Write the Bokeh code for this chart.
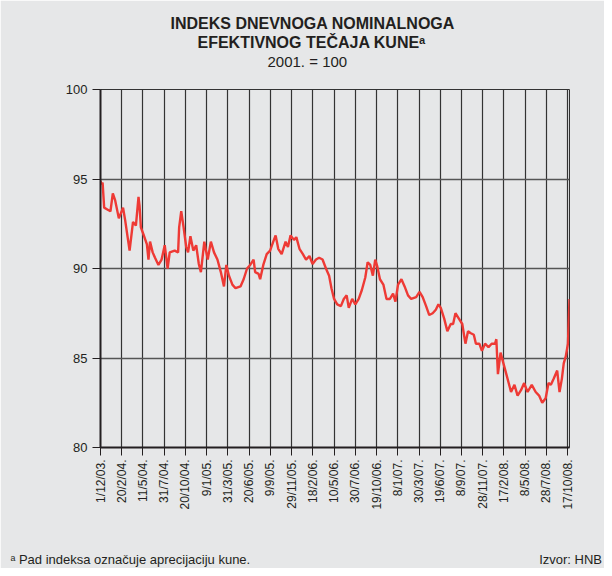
import datetime as dt
from math import pi
from bokeh.plotting import figure
from bokeh.models import FixedTicker, Range1d, ColumnDataSource, Title
from bokeh.embed import file_html
from bokeh.resources import INLINE

# ---- data -------------------------------------------------------------
tick_labels = ["1/12/03.", "20/2/04.", "11/5/04.", "31/7/04.", "20/10/04.", "9/1/05.",
               "31/3/05.", "20/6/05.", "9/9/05.", "29/11/05.", "18/2/06.", "10/5/06.",
               "30/7/06.", "19/10/06.", "8/1/07.", "30/3/07.", "19/6/07.", "8/9/07.",
               "28/11/07.", "17/2/08.", "8/5/08.", "28/7/08.", "17/10/08."]

# days since 1 Dec 2003
days = [0, 4, 8, 14, 26, 38, 47, 56, 70, 86, 94, 111, 124, 135, 145, 149, 154, 164,
        177, 183, 189, 199, 208, 221, 233, 245, 256, 264, 283, 296, 300, 308, 317, 327,
        334, 343, 354, 365, 375, 383, 396, 409, 421, 433, 446, 459, 471, 480, 490, 503,
        515, 534, 546, 559, 571, 584, 590, 603, 609, 621, 634, 647, 659, 668, 678, 691,
        706, 715, 725, 738, 747, 759, 772, 784, 797, 809, 822, 834, 847, 860, 872, 881,
        891, 903, 917, 928, 939, 947, 960, 972, 985, 997, 1010, 1019, 1029, 1039, 1048,
        1056, 1066, 1079, 1091, 1104, 1116, 1125, 1135, 1148, 1160, 1173, 1185, 1204,
        1217, 1229, 1242, 1254, 1267, 1279, 1289, 1298, 1311, 1323, 1336, 1345, 1354,
        1367, 1380, 1392, 1402, 1411, 1424, 1432, 1445, 1455, 1467, 1480, 1492, 1505,
        1510, 1516, 1526, 1537, 1548, 1557, 1566, 1579, 1591, 1604, 1616, 1629, 1645,
        1660, 1673, 1685, 1698, 1709, 1718, 1729, 1742, 1751, 1760, 1767, 1775, 1783, 1789]

index_values = [94.9, 94.7, 94.8, 93.4, 93.3, 93.2, 94.2, 93.8, 92.8, 93.4, 92.7, 91.0,
                92.6, 92.4, 94.0, 93.5, 92.3, 91.9, 91.35, 90.5, 91.5, 90.9, 90.6, 90.2,
                90.5, 91.3, 90.0, 90.9, 91.0, 90.9, 92.3, 93.2, 92.3, 91.2, 90.9, 91.8,
                91.0, 91.3, 90.25, 89.8, 91.5, 90.5, 91.5, 90.9, 90.5, 89.8, 89.0, 90.2,
                89.6, 89.1, 88.9, 89.0, 89.4, 90.0, 90.2, 90.5, 89.8, 89.7, 89.4, 90.2,
                90.8, 91.0, 91.5, 91.85, 91.1, 90.8, 91.5, 91.2, 91.85, 91.6, 91.75, 91.1,
                90.8, 90.5, 90.7, 90.25, 90.5, 90.6, 90.5, 90.0, 89.6, 88.9, 88.3, 88.0,
                87.9, 88.3, 88.5, 87.8, 88.3, 88.0, 88.3, 88.8, 89.5, 90.35, 90.2, 89.6,
                90.5, 90.1, 89.4, 89.1, 88.3, 88.3, 88.6, 88.15, 89.1, 89.4, 89.0, 88.5,
                88.3, 88.4, 88.7, 88.4, 87.9, 87.4, 87.5, 87.7, 88.0, 87.8, 87.2, 86.5,
                86.9, 86.9, 87.5, 87.2, 86.9, 85.8, 86.5, 86.4, 86.3, 85.8, 85.8, 85.4,
                85.8, 85.6, 85.8, 85.8, 86.05, 84.1, 85.3, 84.7, 84.1, 83.6, 83.1, 83.5,
                82.9, 83.2, 83.6, 83.1, 83.5, 83.1, 82.9, 82.5, 82.75, 83.6, 83.5, 83.85,
                84.3, 83.1, 83.85, 84.7, 85.1, 85.8, 88.3]

y_ticks = [80, 85, 90, 95, 100]

title_line1 = "INDEKS DNEVNOGA NOMINALNOGA"
title_line2 = "EFEKTIVNOG TEČAJA KUNE\u1d43"
subtitle = "2001. = 100"
footnote = "\u1d43 Pad indeksa označuje aprecijaciju kune."
source_note = "Izvor: HNB"

# ---- helpers ------------------------------------------------------------
def parse(s):
    d, m, y = s.strip(".").split("/")
    return dt.date(2000 + int(y), int(m), int(d))

base = parse(tick_labels[0])
tick_pos = [(parse(s) - base).days for s in tick_labels]

BG = "#e6e7e8"
TXT = "#231f20"
FONT = "Liberation Sans"

p = figure(width=604, height=568, output_backend="svg", toolbar_location=None,
           x_range=Range1d(0, max(days)), y_range=Range1d(y_ticks[0], y_ticks[-1]),
           min_border_left=100, min_border_right=35, min_border_top=0,
           min_border_bottom=0)
p.background_fill_color = BG
p.border_fill_color = BG
p.outline_line_color = "#333333"
p.outline_line_width = 1

src = ColumnDataSource(dict(x=days, y=index_values))
p.line("x", "y", source=src, line_color="#ee3a35", line_width=2.4)

# axes
p.xaxis.ticker = FixedTicker(ticks=tick_pos)
p.xaxis.major_label_overrides = {t: l for t, l in zip(tick_pos, tick_labels)}
p.xaxis.major_label_orientation = pi / 2
p.yaxis.ticker = FixedTicker(ticks=y_ticks)
for ax in (p.xaxis[0], p.yaxis[0]):
    ax.axis_line_color = "#231f20"
    ax.axis_line_width = 2
    ax.major_tick_line_color = "#231f20"
    ax.major_tick_line_width = 1
    ax.major_tick_in = 0
    ax.major_tick_out = 8
    ax.minor_tick_line_color = None
    ax.major_label_text_font = FONT
    ax.major_label_text_color = TXT
p.xaxis.major_label_text_font_size = "12px"
p.yaxis.major_label_text_font_size = "13px"
p.yaxis.major_label_standoff = 5
p.xaxis.major_label_standoff = 4

p.xgrid.ticker = FixedTicker(ticks=tick_pos)
p.xgrid.grid_line_color = "#333333"
p.xgrid.grid_line_width = 1.2
p.ygrid.ticker = FixedTicker(ticks=y_ticks)
p.ygrid.grid_line_color = "#555555"
p.ygrid.grid_line_width = 1.5

FRAME_LEFT = 100


def title(text, size, bold=False, left=None, standoff=0, color=TXT):
    t = Title(text=text, text_font=FONT, text_font_size=size,
              text_font_style="bold" if bold else "normal", text_color=color,
              standoff=standoff, text_line_height=1.0)
    if left is not None:
        t.align = "left"
        t.offset = left - FRAME_LEFT
    return t


# above panel: first item is closest to the plot frame
p.add_layout(title(" ", "10px", standoff=7), "above")          # gap above frame
p.add_layout(title(subtitle, "15px", left=267), "above")
p.add_layout(title(title_line2, "16px", True, left=197), "above")
p.add_layout(title(title_line1, "16px", True, left=170), "above")
p.add_layout(title(" ", "8px", standoff=1), "above")           # top margin

# below panel: x axis first, then spacer, then the footnote line
p.add_layout(title(" ", "10px", standoff=22), "below")
p.add_layout(title(footnote + "\u00a0" * 80 + source_note, "13px", left=10, standoff=4),
             "below")

open("out.html", "w").write(file_html(p, INLINE))
